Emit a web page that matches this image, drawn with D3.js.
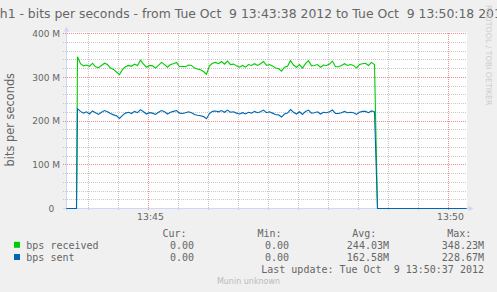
<!DOCTYPE html>
<html>
<head>
<meta charset="utf-8">
<script src="https://cdn.jsdelivr.net/npm/d3@7"></script>
<style>
  body { margin: 0; background: #f0f0f0; }
  svg { display: block; font-family: "DejaVu Sans", sans-serif; }
  svg text { white-space: pre; }
  .mono { font-family: "DejaVu Sans Mono", monospace; }
</style>
</head>
<body>
<div id="chart"></div>
<script>
// Données du graphe (valeurs en M bits/s)
const title = "eth1 - bits per seconds - from Tue Oct  9 13:43:38 2012 to Tue Oct  9 13:50:18 2012";
const startTime = new Date(2012, 9, 9, 13, 43, 38);
const endTime = new Date(2012, 9, 9, 13, 50, 18);
const idleBefore = [0, 10];      // secondes après startTime, valeur 0
const idleAfter = [311, 400];
const activeStart = 11;          // premier échantillon actif
const sampleStep = 3;            // secondes entre échantillons

const received = [
  347, 331, 326, 328, 325, 332, 324, 322, 327, 332,
  329, 321, 318, 312, 306, 318, 324, 327, 325, 330,
  327, 339, 330, 323, 327, 326, 321, 327, 334, 329,
  323, 329, 331, 334, 324, 325, 324, 328, 327, 321,
  319, 317, 313, 307, 326, 332, 334, 331, 336, 330,
  337, 329, 330, 326, 323, 327, 323, 329, 327, 331,
  327, 331, 336, 327, 329, 326, 321, 320, 314, 323,
  325, 338, 328, 323, 329, 321, 331, 338, 326, 327,
  329, 323, 328, 327, 330, 337, 324, 324, 327, 331,
  327, 329, 327, 321, 329, 331, 332, 327, 334, 329
];
const sent = [
  228, 222, 218, 221, 216, 223, 219, 215, 220, 224,
  221, 217, 214, 212, 206, 213, 218, 220, 217, 222,
  219, 226, 221, 216, 219, 218, 215, 220, 224, 221,
  216, 220, 222, 224, 218, 217, 219, 221, 219, 215,
  213, 212, 210, 205, 217, 222, 223, 221, 224, 220,
  225, 220, 221, 218, 216, 219, 216, 220, 218, 222,
  219, 221, 225, 219, 221, 218, 215, 214, 209, 216,
  218, 226, 220, 216, 221, 215, 222, 225, 218, 219,
  221, 216, 220, 219, 221, 225, 217, 217, 219, 222,
  219, 220, 219, 215, 220, 222, 222, 219, 223, 221
];

const yMajor = [0, 100, 200, 300, 400];
const yMinorStep = 20;
const xLabels = ["13:45", "13:50"];
const seriesNames = ["bps received", "bps sent"];
const seriesColors = ["#00cc00", "#0066b3"];
const colHeaders = ["Cur:", "Min:", "Avg:", "Max:"];
const curValues = ["0.00", "0.00"];
const minValues = ["0.00", "0.00"];
const avgValues = ["244.03M", "162.58M"];
const maxValues = ["348.23M", "228.67M"];
const lastUpdate = "Last update: Tue Oct  9 13:50:37 2012";

// Dimensions
const W = 497, H = 292;
const svg = d3.select("#chart").append("svg")
    .attr("width", W).attr("height", H);

const x = d3.scaleTime().domain([startTime, endTime]).range([66.5, 466.5]);
const y = d3.scaleLinear().domain([0, 400]).range([208.5, 33.5]);
const crisp = v => Math.round(v - 0.5) + 0.5;
const at = s => d3.timeSecond.offset(startTime, s);

// Zone de tracé
svg.append("rect").attr("x", 66).attr("y", 32).attr("width", 401).attr("height", 177)
    .attr("fill", "#fff");

// Grille horizontale
const grid = svg.append("g").attr("stroke-dasharray", "1,1").attr("shape-rendering", "crispEdges");
d3.range(0, 401, yMinorStep).forEach(v => {
  grid.append("line")
      .attr("x1", 63).attr("x2", 467)
      .attr("y1", crisp(y(v))).attr("y2", crisp(y(v)))
      .attr("stroke", v % 100 === 0 ? "#ee8a8a" : "#c8c8c8");
});
// Grille verticale (toutes les 30 s)
d3.timeSecond.every(30).range(at(1), endTime).forEach(t => {
  const major = t.getMinutes() % 5 === 0 && t.getSeconds() === 0;
  grid.append("line")
      .attr("x1", crisp(x(t))).attr("x2", crisp(x(t)))
      .attr("y1", 33).attr("y2", 211)
      .attr("stroke", major ? "#ee8a8a" : "#c8c8c8");
});

// Axes (couleur Munin)
const axisCol = "#cfd6f8";
svg.append("line").attr("x1", 66.5).attr("x2", 66.5).attr("y1", 211).attr("y2", 30)
    .attr("stroke", axisCol);
svg.append("line").attr("x1", 63).attr("x2", 469).attr("y1", 208.5).attr("y2", 208.5)
    .attr("stroke", axisCol);
svg.append("path").attr("d", "M66.5,26.5L63.8,31.5L69.2,31.5Z").attr("fill", axisCol);
svg.append("path").attr("d", "M473.5,208.5L468.5,205.8L468.5,211.2Z").attr("fill", axisCol);

// Séries
function points(vals) {
  return idleBefore.map(s => ({t: at(s), v: 0}))
    .concat(vals.map((v, i) => ({t: at(activeStart + i * sampleStep), v: v})))
    .concat(idleAfter.map(s => ({t: at(s), v: 0})));
}
const line = d3.line().x(d => x(d.t)).y(d => y(d.v));
[received, sent].forEach((vals, i) => {
  svg.append("path").datum(points(vals))
      .attr("fill", "none")
      .attr("stroke", seriesColors[i])
      .attr("stroke-width", 1.1)
      .attr("d", line);
});

// Étiquettes des axes
const yAxis = d3.axisLeft(y).tickValues(yMajor).tickSize(0).tickPadding(0)
    .tickFormat(d => d === 0 ? "0\u00a0\u00a0" : d + " M");
svg.append("g").attr("transform", "translate(60,0)").call(yAxis)
    .call(g => g.select(".domain").remove())
    .selectAll("text")
    .style("font-family", "DejaVu Sans").style("font-size", "9px")
    .attr("fill", "#666").attr("dy", "0.33em");

const fmt = d3.timeFormat("%H:%M");
const xAxis = d3.axisBottom(x)
    .tickValues(xLabels.map(l => new Date(2012, 9, 9, +l.slice(0, 2), +l.slice(3), 0)))
    .tickSize(0).tickPadding(4.6).tickFormat(fmt);
svg.append("g").attr("transform", "translate(1.5,208.5)").call(xAxis)
    .call(g => g.select(".domain").remove())
    .selectAll("text")
    .style("font-family", "DejaVu Sans").style("font-size", "9.3px")
    .attr("fill", "#666");

// Titre
svg.append("text").attr("x", 248.5).attr("y", 17.5)
    .attr("text-anchor", "middle")
    .style("font-size", "12.4px").attr("fill", "#666")
    .text(title);

svg.append("text").attr("transform", "translate(13.5,119.7) rotate(-90)")
    .attr("text-anchor", "middle").style("font-size", "11.4px").attr("fill", "#666")
    .text("bits per seconds");

svg.append("text").attr("transform", "translate(486,5) rotate(90)")
    .style("font-size", "7.8px").attr("fill", "#cccccc")
    .text("RRDTOOL / TOBI OETIKER");

// Légende
const leg = svg.append("g").attr("class", "mono").style("font-size", "10px")
    .attr("fill", "#666");
const headX = [162.5, 257.5, 352.2, 447.2];
colHeaders.forEach((h, i) => leg.append("text").attr("x", headX[i]).attr("y", 237).text(h));
const rowY = [248.8, 261];
const valX = [194, 289, 389, 484];
seriesNames.forEach((n, i) => {
  leg.append("rect").attr("x", 14).attr("y", rowY[i] - 7).attr("width", 6).attr("height", 6)
      .attr("fill", seriesColors[i]);
  leg.append("text").attr("x", 26.3).attr("y", rowY[i]).text(n);
  [curValues, minValues, avgValues, maxValues].forEach((col, j) => {
    leg.append("text").attr("x", valX[j]).attr("y", rowY[i])
        .attr("text-anchor", "end").text(col[i]);
  });
});
leg.append("text").attr("x", 484).attr("y", 273.4).attr("text-anchor", "end")
    .style("white-space", "pre").text(lastUpdate);

svg.append("text").attr("x", 248.5).attr("y", 283.5).attr("text-anchor", "middle")
    .style("font-size", "8px").attr("fill", "#bbbbbb").text("Munin unknown");
</script>
</body>
</html>
